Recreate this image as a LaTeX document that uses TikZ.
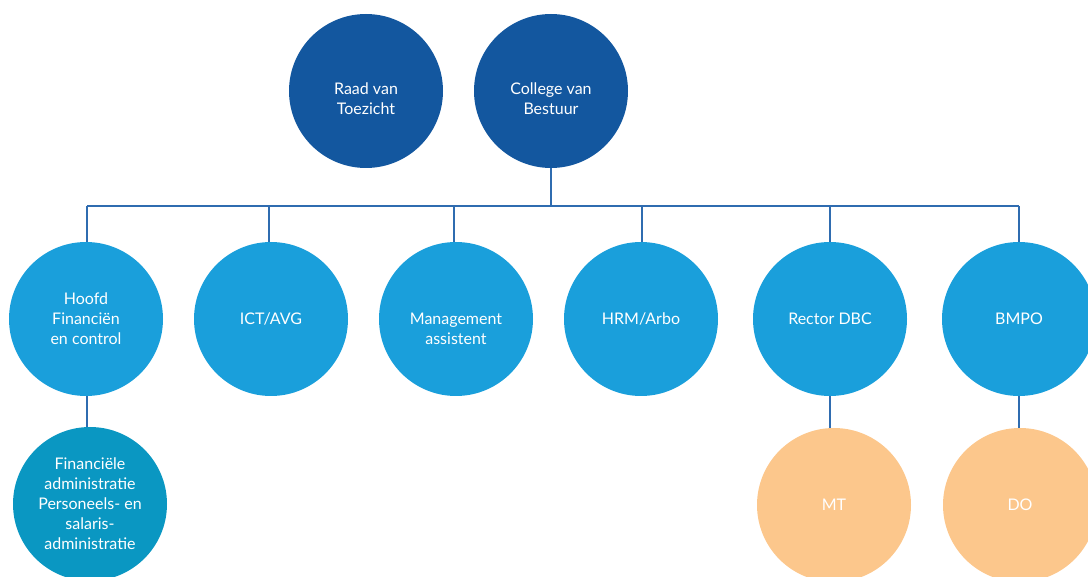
\documentclass[tikz,border=0pt]{standalone}
\usepackage{fontspec}
\setmainfont{Lato}
\definecolor{darkblue}{HTML}{13579F}
\definecolor{midblue}{HTML}{1A9FDB}
\definecolor{teal}{HTML}{0A97C2}
\definecolor{peach}{HTML}{FCC78C}
\definecolor{linecol}{HTML}{2F6CB0}
\begin{document}
\begin{tikzpicture}[x=1pt,y=-1pt,
  orgcircle/.style={circle,minimum size=154pt,inner sep=0pt,text=white,align=center,
    font=\fontsize{16}{20}\selectfont},
  topc/.style={orgcircle,fill=darkblue},
  midc/.style={orgcircle,fill=midblue},
  finc/.style={orgcircle,fill=teal},
  peachc/.style={orgcircle,fill=peach},
  conn/.style={draw=linecol,line width=1.6pt}]
\useasboundingbox (0,0) rectangle (1088,577);
\clip (0,0) rectangle (1088,577);
\node[topc] (rvt) at (366,91) {\mbox{}\\[7pt]Raad van\\Toezicht};
\node[topc] (cvb) at (551,91) {\mbox{}\\[7pt]College van\\Bestuur};
\node[midc] (hoofd) at (86,319) {Hoofd\\Financiën\\en control};
\node[midc] (ict) at (271,319) {ICT/AVG};
\node[midc] (man) at (456,319) {\mbox{}\\[12pt]Management\\assistent};
\node[midc] (hrm) at (641,319) {HRM/Arbo};
\node[midc] (rector) at (830,319) {Rector DBC};
\node[midc] (bmpo) at (1019,319) {BMPO};
\node[finc] (fin) at (90,504) {Financiële\\administratie\\Personeels- en\\salaris-\\administratie};
\node[peachc] (mt) at (834,505) {MT};
\node[peachc] (do) at (1020,505) {DO};
\coordinate (busL) at (87,206);
\coordinate (busR) at (1019,206);
\draw[conn] (busL) -- (busR);
\draw[conn] (cvb.south) -- (cvb.south |- busL);
\draw[conn] ([xshift=1pt]hoofd.north) -- ([xshift=1pt]hoofd.north |- busL);
\foreach \n/\dx in {ict/-2,man/-2,hrm/1,rector/0,bmpo/0}{
  \draw[conn] ([xshift=\dx pt]\n.north) -- ([xshift=\dx pt]\n.north |- busL);
}
\draw[conn] ([xshift=1pt]hoofd.south) -- ([xshift=1pt]hoofd.south |- fin.north);
\draw[conn] (rector.south) -- (rector.south |- mt.north);
\draw[conn] (bmpo.south) -- (bmpo.south |- do.north);
\end{tikzpicture}
\end{document}
